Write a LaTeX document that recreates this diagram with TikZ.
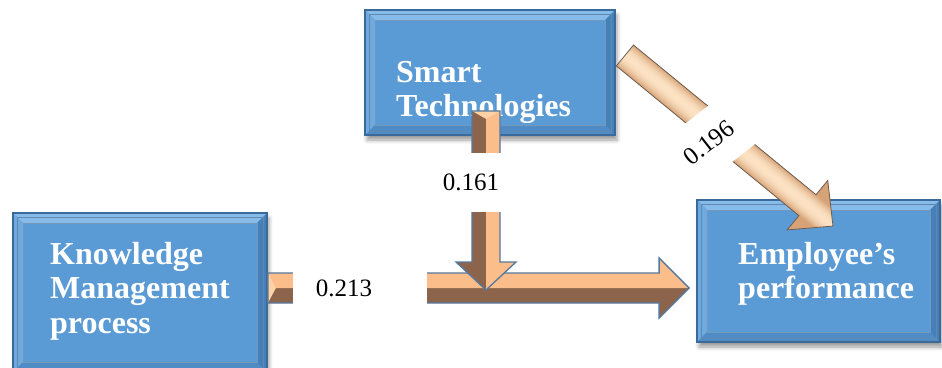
\documentclass[tikz,border=0pt]{standalone}
\usepackage{fontspec}
\setmainfont{Liberation Serif}
\usetikzlibrary{calc,shadows.blur}

\definecolor{boxfill}{HTML}{5B9BD5}
\definecolor{boxedge}{HTML}{3A6A9A}
\definecolor{bevtop}{HTML}{86BBEA}
\definecolor{bevleft}{HTML}{6EA9DF}
\definecolor{bevbottom}{HTML}{4F8CC6}
\definecolor{bevright}{HTML}{4680BA}
\definecolor{arrowlight}{HTML}{FBBE8A}
\definecolor{arrowdark}{HTML}{8C644B}
\definecolor{arrowcap}{HTML}{FFD2A6}
\definecolor{arrowedge}{HTML}{56789E}
\definecolor{cream}{HTML}{FCE3C4}
\definecolor{tan}{HTML}{D6A276}
\definecolor{diagedge}{HTML}{6E5C50}

% two-tone block arrow: start, tip, shaft half width, head half width, head length
\newcommand\duoarrow[5]{%
  \coordinate (da-c) at ($(#2)!#5!(#1)$);
  \coordinate (da-al) at ($(#1)!#3!90:(#2)$);
  \coordinate (da-ar) at ($(#1)!#3!-90:(#2)$);
  \coordinate (da-cl) at ($(da-c)!#3!90:(#2)$);
  \coordinate (da-cr) at ($(da-c)!#3!-90:(#2)$);
  \coordinate (da-hl) at ($(da-c)!#4!90:(#2)$);
  \coordinate (da-hr) at ($(da-c)!#4!-90:(#2)$);
  \coordinate (da-cap) at ($(#1)!8pt!(#2)$);
  \fill[arrowdark] (#1) -- (da-ar) -- (da-cr) -- (da-hr) -- (#2) -- cycle;
  \fill[arrowlight] (#1) -- (da-al) -- (da-cl) -- (da-hl) -- (#2) -- cycle;
  \fill[arrowcap] (da-al) -- (da-ar) -- (da-cap) -- cycle;
  \draw[arrowedge, line width=1.3pt, line join=miter]
    (da-al) -- (da-cl) -- (da-hl) -- (#2) -- (da-hr) -- (da-cr) -- (da-ar) -- cycle;
}

\tikzset{
  bevelbox/.style={rectangle, inner sep=0pt, fill=boxfill, draw=boxedge, line width=1.8pt,
    blur shadow={shadow xshift=2pt, shadow yshift=-5pt, shadow blur radius=4pt, shadow opacity=40},
    path picture={
      \coordinate (pNW) at (path picture bounding box.north west);
      \coordinate (pNE) at (path picture bounding box.north east);
      \coordinate (pSW) at (path picture bounding box.south west);
      \coordinate (pSE) at (path picture bounding box.south east);
      \fill[bevtop] (pNW) -- (pNE) -- ([xshift=-10pt,yshift=-10pt]pNE) -- ([xshift=10pt,yshift=-10pt]pNW) -- cycle;
      \fill[bevleft] (pNW) -- (pSW) -- ([xshift=10pt,yshift=10pt]pSW) -- ([xshift=10pt,yshift=-10pt]pNW) -- cycle;
      \fill[bevbottom] (pSW) -- (pSE) -- ([xshift=-10pt,yshift=10pt]pSE) -- ([xshift=10pt,yshift=10pt]pSW) -- cycle;
      \fill[bevright] (pNE) -- (pSE) -- ([xshift=-10pt,yshift=10pt]pSE) -- ([xshift=-10pt,yshift=-10pt]pNE) -- cycle;
      \draw[boxedge!70, line width=0.7pt] ([xshift=10pt,yshift=-10pt]pNW) rectangle ([xshift=-10pt,yshift=10pt]pSE);
      \draw[boxedge!80, line width=0.8pt] ([xshift=4pt,yshift=-4pt]pNW) rectangle ([xshift=-4pt,yshift=4pt]pSE);
    }},
  boxtext/.style={text=white, font=\bfseries\fontsize{32}{34.5}\selectfont, align=left,
    inner sep=0pt, anchor=north west},
  coef/.style={font=\fontsize{25}{28}\selectfont, fill=white, inner sep=0pt},
}

\begin{document}
\begin{tikzpicture}[x=1pt, y=-1pt]
\useasboundingbox (0,0) rectangle (942,367);
\begin{scope}
\clip (0,0) rectangle (942,367);

% construct boxes
\node[bevelbox, minimum width=250pt, minimum height=125pt] (st) at (490,72.5) {};
\node[bevelbox, minimum width=254pt, minimum height=159pt] (km) at (140,292.5) {};
\node[bevelbox, minimum width=243pt, minimum height=142pt] (ep) at (818.5,271) {};

\node[boxtext] (stt) at (396,61) {Smart\\Technologies};
\node[boxtext] (kmt) at (50,242) {Knowledge\\Management\\process};
\node[boxtext] (ept) at (738,242) {Employee’s\\performance};

% path endpoints
\coordinate (h0) at ([yshift=4.5pt]km.east);
\coordinate (h1) at ($(h0 -| ep.west)+(-7,0)$);
\coordinate (v0) at ([xshift=-4pt,yshift=25pt]st.south);
\coordinate (v1) at ($(v0 |- h0)+(0,2)$);
\coordinate (d0) at ([xshift=9pt,yshift=17pt]st.east);
\coordinate (d1) at ([xshift=14.5pt,yshift=-27pt]ep.north);

% knowledge management -> performance
\duoarrow{h0}{h1}{15pt}{30pt}{30pt}
% smart technologies -> main path
\duoarrow{v0}{v1}{14pt}{30pt}{28pt}

% smart technologies -> performance (shaded arrow)
\path let \p1 = ($(d1)-(d0)$) in \pgfextra{%
  \pgfmathsetmacro\dang{atan2(\y1,\x1)}\global\let\dang\dang
  \pgfmathsetmacro\dlen{veclen(\x1,\y1)}\global\let\dlen\dlen};
\begin{scope}[shift={(d0)}, rotate=\dang]
  \begin{scope}
    \clip (0,-13.5) -- ({\dlen-33},-13.5) -- ({\dlen-33},-32) -- (\dlen,0)
      -- ({\dlen-33},32) -- ({\dlen-33},13.5) -- (0,13.5) -- cycle;
    \foreach \k in {0,...,31}{
      \pgfmathsetmacro\yc{-32+(\k+0.5)*2}
      \pgfmathsetmacro\aa{abs(\yc)/13.5}
      \pgfmathtruncatemacro\pp{\aa<1 ? 100*(1-\aa*\aa) : 0}
      \fill[cream!\pp!tan] (0,{-32+\k*2}) rectangle (\dlen,{-32+(\k+1)*2+0.4});
    }
  \end{scope}
  \draw[diagedge, line width=0.8pt, line join=miter]
    (0,-13.5) -- ({\dlen-33},-13.5) -- ({\dlen-33},-32) -- (\dlen,0)
    -- ({\dlen-33},32) -- ({\dlen-33},13.5) -- (0,13.5) -- cycle;
\end{scope}

% path coefficients
\node[coef, minimum width=60pt, minimum height=59pt] (l161) at (471,182.5) {0.161};
\node[coef, minimum width=134pt, minimum height=48pt] (l213) at (360,288) {0.213\hspace*{32pt}};
\node[coef, rotate=38, minimum width=110pt, minimum height=59pt] (l196) at (720,134) {0.196\hspace*{28pt}};
\end{scope}
\end{tikzpicture}
\end{document}
